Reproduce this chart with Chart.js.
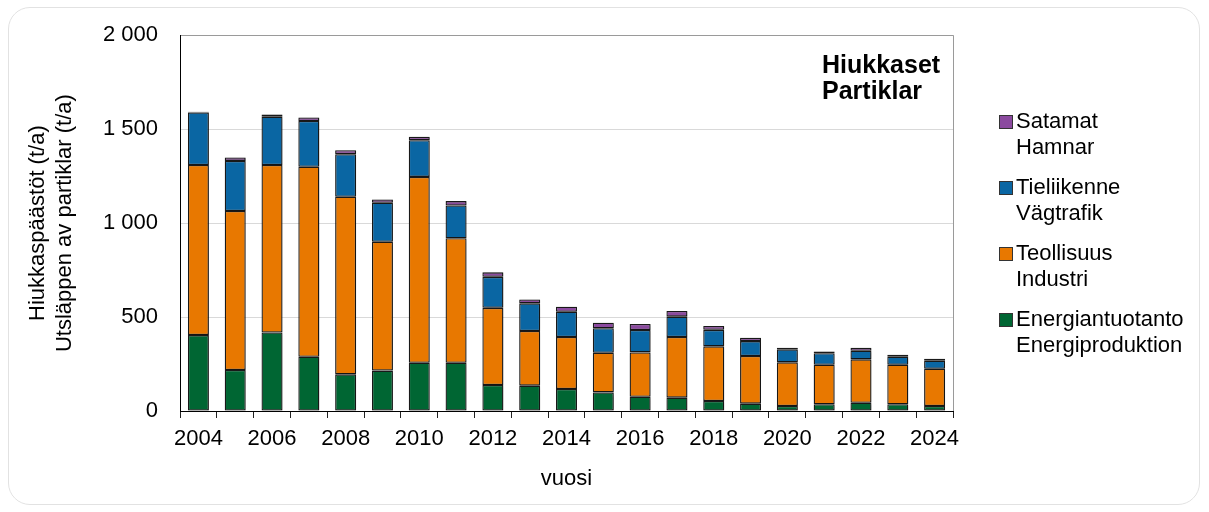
<!DOCTYPE html>
<html>
<head>
<meta charset="utf-8">
<script src="https://cdn.jsdelivr.net/npm/chart.js@4.4.0/dist/chart.umd.min.js"></script>
<style>
html,body{margin:0;padding:0;background:#fff;}
#wrap{position:relative;width:1209px;height:512px;}
#frame{position:absolute;left:8px;top:7px;width:1192px;height:498px;border:1px solid #e2e2e2;border-radius:22px;pointer-events:none;box-sizing:border-box;}
canvas{position:absolute;left:0;top:0;}
</style>
</head>
<body>
<div id="wrap">
<canvas id="c" width="1209" height="512"></canvas>
<div id="frame"></div>
</div>
<script>
const years = ['2004','2005','2006','2007','2008','2009','2010','2011','2012','2013','2014','2015','2016','2017','2018','2019','2020','2021','2022','2023','2024'];
const energia = [404,218,418,289,195,215,257,257,138,135,117,99,76,71,53,39,27,36,44,36,27];
const teollisuus = [905,846,891,1011,945,686,989,662,411,291,277,211,236,323,291,254,232,210,231,210,198];
const tieliikenne = [280,267,257,243,227,207,195,175,165,147,134,130,119,108,88,79,69,61,46,43,43];
const satamat = [3,18,12,19,21,18,18,23,24,21,27,30,32,30,20,18,9,9,16,11,10];
const seriesLabels = [
  ['Energiantuotanto','Energiproduktion'],
  ['Teollisuus','Industri'],
  ['Tieliikenne','Vägtrafik'],
  ['Satamat','Hamnar']
];
const seriesColors = ['#006633','#e87800','#0a66a3','#8b4a9f'];
const yTitle = ['Hiukkaspäästöt (t/a)','Utsläppen av partiklar (t/a)'];
const xTitle = 'vuosi';
const chartTitle = ['Hiukkaset','Partiklar'];
const yTicks = [0,500,1000,1500,2000];

const FONT = "'Liberation Sans', Arial, sans-serif";
Chart.defaults.font.family = FONT;
Chart.defaults.font.size = 22;
Chart.defaults.color = '#000';

const seriesData = [energia, teollisuus, tieliikenne, satamat];

const extras = {
  id: 'extras',
  beforeDatasetsDraw(chart) {
    const ctx = chart.ctx;
    ctx.save();
    ctx.shadowColor = 'rgba(0,0,0,0.35)';
    ctx.shadowBlur = 3;
    ctx.shadowOffsetX = 1;
    ctx.shadowOffsetY = 1;
  },
  afterDatasetsDraw(chart) {
    chart.ctx.restore();
  },
  afterDraw(chart) {
    const ctx = chart.ctx;
    const ca = chart.chartArea;
    ctx.save();
    ctx.strokeStyle = '#9a9a9a';
    ctx.lineWidth = 1;
    ctx.beginPath();
    ctx.moveTo(Math.round(ca.right) + 0.5, ca.top);
    ctx.lineTo(Math.round(ca.right) + 0.5, ca.bottom);
    ctx.stroke();
    ctx.fillStyle = '#000';
    ctx.font = "bold 25px " + FONT;
    ctx.textAlign = 'left';
    ctx.textBaseline = 'alphabetic';
    ctx.fillText(chartTitle[0], 822, 73);
    ctx.fillText(chartTitle[1], 822, 99);
    ctx.font = "22px " + FONT;
    ctx.textBaseline = 'middle';
    const items = chart.data.datasets.map((d, i) => i).reverse();
    const startY = 122, itemGap = 66, lineGap = 26;
    items.forEach((di, k) => {
      const ds = chart.data.datasets[di];
      const y = startY + k * itemGap;
      ctx.fillStyle = ds.backgroundColor;
      ctx.fillRect(999, y - 7, 14, 14);
      ctx.strokeStyle = '#333';
      ctx.lineWidth = 1;
      ctx.strokeRect(999.5, y - 6.5, 13, 13);
      ctx.fillStyle = '#000';
      seriesLabels[di].forEach((t, li) => ctx.fillText(t, 1016, y + li * lineGap));
    });
    ctx.restore();
  }
};

new Chart(document.getElementById('c'), {
  type: 'bar',
  data: {
    labels: years,
    datasets: seriesData.map((d, i) => ({
      label: seriesLabels[i].join(' / '),
      data: d,
      backgroundColor: seriesColors[i],
      borderColor: '#1a1a1a',
      borderWidth: 1.3,
      borderSkipped: false,
      categoryPercentage: 1,
      barPercentage: 0.57
    }))
  },
  options: {
    responsive: false,
    animation: false,
    layout: { padding: { left: 0, right: 256, top: 35, bottom: 0 } },
    plugins: { legend: { display: false }, tooltip: { enabled: false }, title: { display: false } },
    scales: {
      x: {
        stacked: true,
        afterFit(s) { s.height = 101; },
        border: { color: '#000', width: 1 },
        grid: { drawOnChartArea: false, drawTicks: true, tickLength: 7, color: '#222', offset: true },
        ticks: {
          autoSkip: false, maxRotation: 0, padding: 8,
          callback(v, i) { return i % 2 === 0 ? years[i] : ''; }
        },
        title: { display: true, text: xTitle, padding: { top: 0, bottom: 20 } }
      },
      y: {
        stacked: true,
        min: 0, max: 2000,
        afterFit(s) { s.width = 180; },
        afterBuildTicks(s) { s.ticks = yTicks.map(v => ({ value: v })); },
        border: { color: '#000', width: 1 },
        grid: {
          drawTicks: false,
          color(c) { return c.tick && c.tick.value === 2000 ? '#9a9a9a' : '#d9d9d9'; }
        },
        ticks: {
          padding: 22,
          callback(v) { return v >= 1000 ? String(v).replace(/(\d)(\d{3})$/, '$1 $2') : String(v); }
        },
        title: { display: true, text: yTitle, padding: { top: 25, bottom: 0 } }
      }
    }
  },
  plugins: [extras]
});
</script>
</body>
</html>
